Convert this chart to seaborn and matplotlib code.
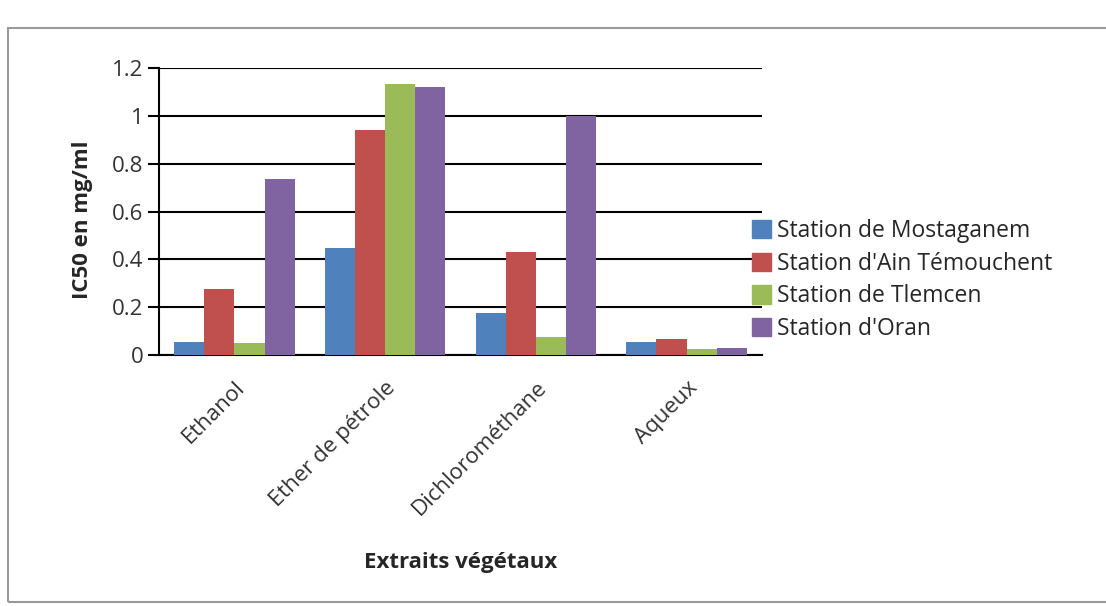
import matplotlib
matplotlib.use("Agg")
import matplotlib.pyplot as plt
import matplotlib.patches as mpatches
import pandas as pd
import seaborn as sns

extraits = ["Ethanol", "Ether de pétrole", "Dichlorométhane", "Aqueux"]
stations = ["Station de Mostaganem", "Station d'Ain Témouchent",
            "Station de Tlemcen", "Station d'Oran"]
mostaganem = [0.055, 0.448, 0.175, 0.053]
ain_temouchent = [0.276, 0.94, 0.43, 0.068]
tlemcen = [0.05, 1.132, 0.077, 0.025]
oran = [0.736, 1.12, 1.0, 0.028]
couleurs = ["#4F81BD", "#C0504D", "#9BBB59", "#8064A2"]

rows = []
for st, vals in zip(stations, [mostaganem, ain_temouchent, tlemcen, oran]):
    for ex, v in zip(extraits, vals):
        rows.append({"extrait": ex, "station": st, "ic50": v})
df = pd.DataFrame(rows)

sns.set_style("white")
plt.rcParams["font.family"] = ["Open Sans", "DejaVu Sans"]

fig = plt.figure(figsize=(11.06, 6.06), dpi=100)
ax = fig.add_axes([159 / 1106, 1 - 355 / 606, (762 - 159) / 1106, (355 - 68) / 606])

sns.barplot(data=df, x="extrait", y="ic50", hue="station", order=extraits,
            hue_order=stations, palette=couleurs, width=0.8, saturation=1,
            ax=ax, zorder=3, edgecolor="none")

ax.set_ylim(0, 1.2)
ax.set_xlim(-0.5, 3.5)
ax.set_yticks([0, 0.2, 0.4, 0.6, 0.8, 1.0, 1.2])
ax.set_yticklabels(["0", "0.2", "0.4", "0.6", "0.8", "1", "1.2"], fontsize=16, color="#333333")
ax.yaxis.grid(True, color="black", lw=1.5, zorder=0)
ax.set_axisbelow(True)

ax.set_xticks([0, 1, 2, 3])
ax.set_xticklabels(extraits, rotation=45, ha="right", rotation_mode="anchor",
                   fontsize=16, color="#333333")
ax.set_xticks([-0.5, 0.5, 1.5, 2.5, 3.5], minor=True)
ax.tick_params(axis="x", which="major", length=0, pad=16)
ax.tick_params(axis="x", which="minor", length=7, width=1.5, color="black", direction="out")
ax.tick_params(axis="y", length=8, width=1.5, color="black", direction="out", left=True, pad=3)

for s in ["top", "right"]:
    ax.spines[s].set_visible(False)
for s in ["left", "bottom"]:
    ax.spines[s].set_color("black")
    ax.spines[s].set_linewidth(1.5)

ax.set_xlabel("Extraits végétaux", fontsize=16, fontweight="bold")
ax.xaxis.set_label_coords(0.5, -(552 - 355) / 287)
ax.set_ylabel("IC50 en mg/ml", fontsize=16, fontweight="bold")
ax.yaxis.set_label_coords(-(159 - 93) / 603, 0.47)

handles = [mpatches.Patch(color=c, label=s) for c, s in zip(couleurs, stations)]
ax.legend(handles=handles, loc="center left", frameon=False, fontsize=16.5,
          bbox_to_anchor=(752 / 1106, 1 - 280 / 606), bbox_transform=fig.transFigure,
          handlelength=0.85, handleheight=0.85, handletextpad=0.25, labelspacing=0.38,
          borderaxespad=0, borderpad=0)

fig.patches.append(mpatches.Rectangle((8 / 1106, 4 / 606), 1.1, 1 - 32 / 606,
                                      transform=fig.transFigure, fill=False,
                                      edgecolor="#999999", lw=1.5))

fig.savefig("out.png", dpi=100)
